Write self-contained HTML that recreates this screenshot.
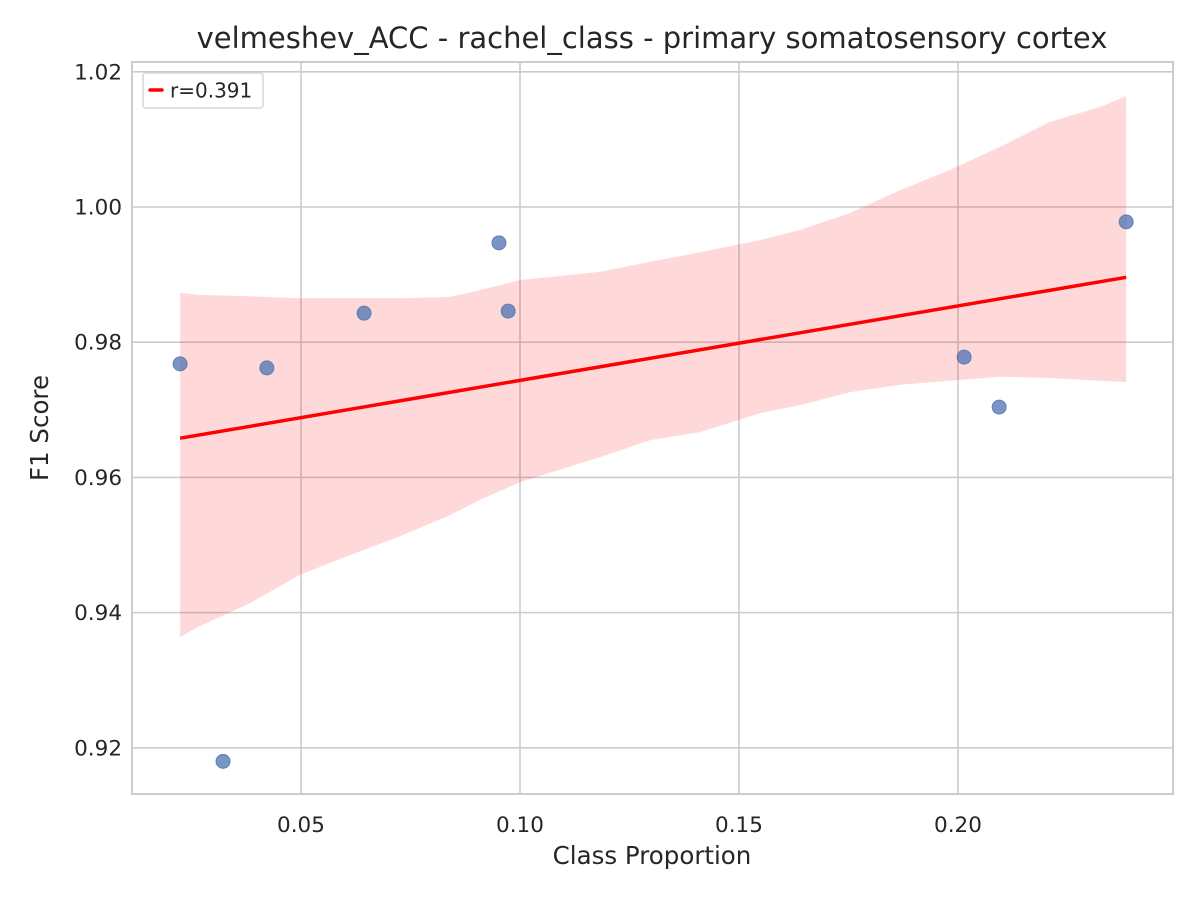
<!DOCTYPE html>
<html><head><meta charset="utf-8"><style>
body{margin:0;background:#fff;font-family:"DejaVu Sans","Liberation Sans",sans-serif;}
svg text{fill:#262626;font-family:"DejaVu Sans","Liberation Sans",sans-serif;}
</style></head><body>
<svg id="chart" width="1200" height="900">
<rect width="1200" height="900" fill="#fff"/>
<g id="grid"></g><g id="band"></g><g id="pts"></g><g id="line"></g><g id="axes"></g>
</svg>
<script>
const xs=[0.0224,0.0322,0.0422,0.0644,0.0952,0.0973,0.2014,0.2094,0.2384];
const ys=[0.9768,0.918,0.9762,0.9843,0.9947,0.9846,0.9778,0.9704,0.9978];
const fitX=[0.0224,0.2384];
const fitY=[0.9658,0.9896];
const bandX=[.0224,.0269,.0384,.0498,.0612,.0726,.0840,.0909,.1000,.1183,.1297,.1411,.1548,.1639,.1753,.1868,.1982,.2096,.2210,.2324,.2384];
const bandUpper=[.9873,.9870,.9868,.9865,.9865,.9865,.9867,.9877,.9892,.9904,.9919,.9933,.9951,.9966,.9991,1.0025,1.0055,1.0089,1.0126,1.0148,1.0164];
const bandLower=[.9364,.9380,.9414,.9456,.9485,.9513,.9544,.9567,.9593,.9630,.9655,.9667,.9695,.9707,.9726,.9737,.9743,.9749,.9747,.9743,.9741];
const xTicks=[0.05,0.10,0.15,0.20];
const xTickLabels=["0.05","0.10","0.15","0.20"];
const yTicks=[0.92,0.94,0.96,0.98,1.00,1.02];
const yTickLabels=["0.92","0.94","0.96","0.98","1.00","1.02"];
const L=132,R=1173,T=62,B=794;
const X0=0.011416,X1=0.24909,Y0=0.91317,Y1=1.02145;
const sx=v=>L+(v-X0)/(X1-X0)*(R-L);
const sy=v=>B-(v-Y0)/(Y1-Y0)*(B-T);
const NS="http://www.w3.org/2000/svg";
function mk(p,t,a){const e=document.createElementNS(NS,t);for(const k in a)e.setAttribute(k,a[k]);p.appendChild(e);return e;}
const grid=document.getElementById('grid'),axes=document.getElementById('axes');
xTicks.forEach((v,i)=>{
 const g=mk(grid,'line',{x1:sx(v),x2:sx(v),y1:T,y2:B,stroke:'#cccccc','stroke-width':1.6});
 
 const t=mk(axes,'text',{x:sx(v),y:B+38,'text-anchor':'middle','font-size':21.5});t.textContent=xTickLabels[i];
 
});
yTicks.forEach((v,i)=>{
 const g=mk(grid,'line',{x1:L,x2:R,y1:sy(v),y2:sy(v),stroke:'#cccccc','stroke-width':1.6});
 
 const t=mk(axes,'text',{x:L-10,y:sy(v)+7.5,'text-anchor':'end','font-size':21.5});t.textContent=yTickLabels[i];
 
});
let d='';bandX.forEach((v,i)=>d+=(i?'L':'M')+sx(v)+','+sy(bandUpper[i]));
for(let i=bandX.length-1;i>=0;i--)d+='L'+sx(bandX[i])+','+sy(bandLower[i]);
const band=mk(document.getElementById('band'),'path',{d:d+'Z',fill:'#ff0000','fill-opacity':0.15});

xs.forEach((v,i)=>{
 const c=mk(document.getElementById('pts'),'circle',{cx:sx(v),cy:sy(ys[i]),r:7,fill:'#4c72b0','fill-opacity':0.75,stroke:'#4c72b0','stroke-opacity':0.8,'stroke-width':1});
 
});
const ln=mk(document.getElementById('line'),'line',{x1:sx(fitX[0]),y1:sy(fitY[0]),x2:sx(fitX[1]),y2:sy(fitY[1]),stroke:'#ff0000','stroke-width':3.5});

const fr=mk(axes,'rect',{x:L,y:T,width:R-L,height:B-T,fill:'none',stroke:'#cccccc','stroke-width':2});

const lg=mk(axes,'g',{});
mk(lg,'rect',{x:143,y:73,width:120,height:35,rx:3,fill:'#fff','fill-opacity':0.8,stroke:'#d6d6d6','stroke-width':1.5});
mk(lg,'line',{x1:150,x2:162,y1:90,y2:90,stroke:'#ff0000','stroke-width':3.5,'stroke-linecap':'round'});
const lt=mk(lg,'text',{x:170,y:97.5,'font-size':20});lt.textContent='r=0.391';

const tt=mk(axes,'text',{x:652,y:48,'text-anchor':'middle','font-size':29});tt.textContent='velmeshev_ACC - rachel_class - primary somatosensory cortex';

const xt=mk(axes,'text',{x:652,y:864,'text-anchor':'middle','font-size':24.5});xt.textContent='Class Proportion';

const yt=mk(axes,'text',{x:48,y:428,'text-anchor':'middle','font-size':24.5,transform:'rotate(-90 48 428)'});yt.textContent='F1 Score';

</script>
</body></html>
